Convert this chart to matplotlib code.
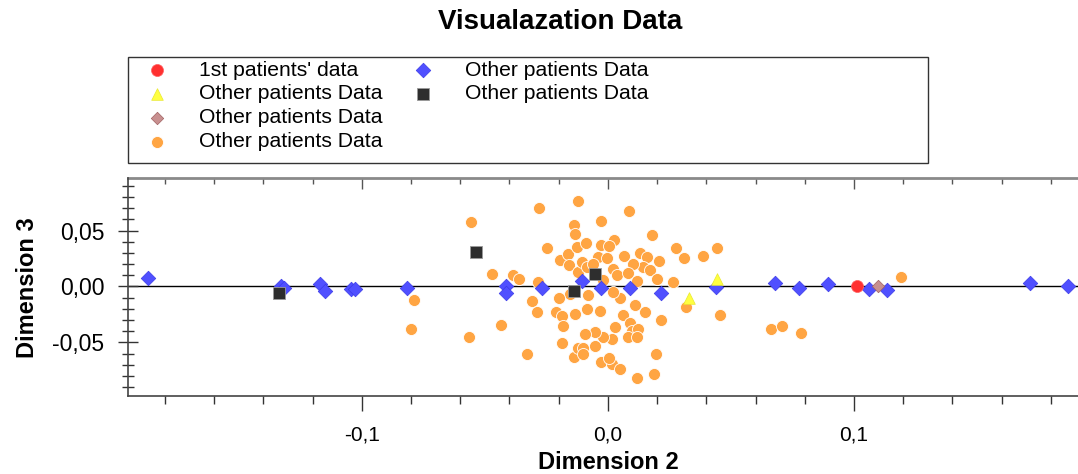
import matplotlib
matplotlib.use('Agg')
import matplotlib.pyplot as plt
from matplotlib.patches import Rectangle
from matplotlib.lines import Line2D
from matplotlib.ticker import FuncFormatter, MultipleLocator

plt.rcParams['font.family'] = ['Liberation Sans', 'DejaVu Sans']

# first patient
red_x = [0.1013]
red_y = [0.0]

# other patients, by marker group
yellow_x = [0.0330, 0.0444]
yellow_y = [-0.0100, 0.0066]

brown_x = [0.1096]
brown_y = [0.0006]

blue_x = [-0.1867, -0.1329, -0.1315, -0.1171, -0.1151, -0.1042, -0.1028, -0.0815,
          -0.0413, -0.0413, -0.0267, -0.0106, -0.0027, 0.0091, 0.0217, 0.0441,
          0.0677, 0.0776, 0.0896, 0.1061, 0.1134, 0.1716, 0.1870]
blue_y = [0.0072, 0.0, -0.0010, 0.0020, -0.0045, -0.0027, -0.0024, -0.0012,
          0.0006, -0.0063, -0.0014, 0.0046, -0.0012, -0.0014, -0.0058, -0.0006,
          0.0033, -0.0012, 0.0018, -0.0027, -0.0033, 0.0027, 0.0006]

black_x = [-0.1336, -0.0538, -0.0051, -0.0138]
black_y = [-0.0063, 0.0304, 0.0110, -0.0037]

orange_x = [-0.0786, -0.0800, -0.0557, -0.0564, -0.0435, -0.0330, -0.0470, -0.0385,
            -0.0362, -0.0283, -0.0310, -0.0290,
            -0.0280, -0.0249, -0.0121, -0.0138, -0.0134, -0.0195, -0.0161, -0.0159,
            -0.0127, -0.0121, 0.0085, -0.0027, 0.0180, 0.0026, -0.0089, -0.0030,
            0.0004, 0.0066, 0.0130, 0.0275, 0.0310, 0.0387, 0.0442, 0.0207,
            0.0157, 0.0144, 0.0171, -0.0039, -0.0005, -0.0107, 0.0022, 0.0035,
            -0.0087, 0.0198, 0.0265, -0.0060, 0.0100, 0.0080, -0.0020, 0.0120,
            -0.0154, -0.0209, -0.0186, -0.0182, -0.0134, -0.0186, -0.0138, -0.0121,
            -0.0087, -0.0033, 0.0062, 0.0150, 0.0110, 0.0214, 0.0028, 0.0089,
            0.0096, 0.0123, 0.0083, 0.0117, 0.0015, -0.0019, -0.0053, -0.0093,
            -0.0053, -0.0103, -0.0100, -0.0030, 0.0015, 0.0049, 0.0005, 0.0117,
            0.0195, 0.0187, 0.0317, 0.0455, -0.0080, 0.0050, -0.0200, 0.0020,
            0.0663, 0.0708, 0.0784, 0.1191]
orange_y = [-0.0117, -0.0383, 0.0580, -0.0450, -0.0345, -0.0600, 0.0114, 0.0099,
            0.0069, 0.0039, -0.0126, -0.0225,
            0.0700, 0.0345, 0.0766, 0.0550, 0.0466, 0.0234, 0.0294, 0.0195,
            0.0354, 0.0129, 0.0676, 0.0589, 0.0460, 0.0414, 0.0390, 0.0370,
            0.0363, 0.0273, 0.0300, 0.0345, 0.0255, 0.0273, 0.0346, 0.0225,
            0.0264, 0.0174, 0.0144, 0.0264, 0.0250, 0.0219, 0.0160, 0.0099,
            0.0174, 0.0069, 0.0040, 0.0200, 0.0200, 0.0120, 0.0060, 0.0050,
            -0.0066, -0.0231, -0.0261, -0.0351, -0.0246, -0.0502, -0.0628, -0.0547,
            -0.0201, -0.0216, -0.0255, -0.0231, -0.0162, -0.0297, -0.0360, -0.0330,
            -0.0396, -0.0381, -0.0456, -0.0456, -0.0471, -0.0456, -0.0411, -0.0426,
            -0.0531, -0.0547, -0.0601, -0.0673, -0.0691, -0.0741, -0.0637, -0.0817,
            -0.0606, -0.0781, -0.0186, -0.0257, -0.0080, -0.0100, -0.0100, -0.0050,
            -0.0382, -0.0352, -0.0412, 0.0087]

legend_labels = ["1st patients' data", "Other patients Data", "Other patients Data",
                 "Other patients Data", "Other patients Data", "Other patients Data"]

W, H = 1078, 474
fig = plt.figure(figsize=(W / 100, H / 100), dpi=100)
ax = fig.add_axes([128 / W, 1 - 396 / H, 1 - 128 / W, 218 / H])

ax.axhline(0, color='black', lw=1, zorder=1)
o = ax.scatter(orange_x, orange_y, s=75, marker='o', color='#FFA543', edgecolors='white', linewidths=0.6, zorder=2)
b = ax.scatter(blue_x, blue_y, s=55, marker='D', color='#5050FF', edgecolors='#3A3AE8', linewidths=0.5, zorder=3)
k = ax.scatter(black_x, black_y, s=67, marker='s', color='#2E2E2E', edgecolors='#9A9A9A', linewidths=0.6, zorder=3)
y = ax.scatter(yellow_x, yellow_y, s=70, marker='^', color='#FFFF40', edgecolors='#E8E830', linewidths=0.5, zorder=3)
br = ax.scatter(brown_x, brown_y, s=40, marker='D', color='#C89090', edgecolors='#A06060', linewidths=0.5, zorder=3)
r = ax.scatter(red_x, red_y, s=75, marker='o', color='#FF3030', edgecolors='#FF6060', linewidths=0.5, zorder=4)

ax.set_xlim(-0.195, 0.191)
ax.set_ylim(-0.098, 0.097)

ax.xaxis.set_major_locator(MultipleLocator(0.1))
ax.xaxis.set_minor_locator(MultipleLocator(0.02))
ax.yaxis.set_major_locator(MultipleLocator(0.05))
ax.yaxis.set_minor_locator(MultipleLocator(0.01))
ax.xaxis.set_major_formatter(FuncFormatter(lambda v, p: f'{v:.1f}'.replace('.', ',').replace('-0,0', '0,0')))
ax.yaxis.set_major_formatter(FuncFormatter(lambda v, p: f'{v:.2f}'.replace('.', ',').replace('-0,00', '0,00')))

ax.tick_params(axis='x', which='major', direction='out', length=11, width=1, colors='#333333', labelsize=15, pad=10, labelcolor='black')
ax.tick_params(axis='x', which='minor', direction='out', length=6, width=1, colors='#333333')
ax.tick_params(axis='y', which='major', direction='inout', length=14, width=1, colors='#333333', labelsize=16.5, pad=10, labelcolor='black')
ax.tick_params(axis='y', which='minor', direction='inout', length=8, width=1, colors='#333333')

top = ax.secondary_xaxis('top')
top.xaxis.set_major_locator(MultipleLocator(0.1))
top.xaxis.set_minor_locator(MultipleLocator(0.02))
top.tick_params(axis='x', which='major', direction='in', length=8, width=1, colors='#555555', labeltop=False)
top.tick_params(axis='x', which='minor', direction='in', length=4, width=1, colors='#555555')
top.spines['top'].set_color('#8a8a8a')
top.spines['top'].set_linewidth(2)

ax.spines['right'].set_visible(False)
ax.spines['top'].set_visible(False)
ax.spines['left'].set_color('#444444')
ax.spines['bottom'].set_color('#444444')
ax.spines['left'].set_linewidth(1.2)
ax.spines['bottom'].set_linewidth(1.2)

fig.text(560 / W, 1 - 22 / H, 'Visualazation Data', ha='center', va='center', fontsize=20, fontweight='bold')
fig.text(608 / W, 1 - 469 / H, 'Dimension 2', ha='center', va='baseline', fontsize=17, fontweight='bold')
fig.text(28 / W, 1 - 288 / H, 'Dimension 3', ha='center', va='center', fontsize=17, fontweight='bold', rotation=90)

# legend box
fig.add_artist(Rectangle((128 / W, 1 - 163 / H), 800 / W, 106 / H, transform=fig.transFigure,
                         fill=False, edgecolor='#333333', lw=1))
blank = Line2D([], [], linestyle='none', marker=None)
handles = [r, y, br, o, b, k, blank, blank]
labels = legend_labels[:4] + legend_labels[4:] + ['', '']
fig.legend(handles, labels, ncol=2, loc='upper left', bbox_to_anchor=(146.5 / W, 1 - 60.5 / H),
           frameon=False, fontsize=15.2, handlelength=1.0, handletextpad=1.49, columnspacing=1.4,
           labelspacing=0.23, borderpad=0, borderaxespad=0, scatterpoints=1)

fig.savefig('out.png', dpi=100)
